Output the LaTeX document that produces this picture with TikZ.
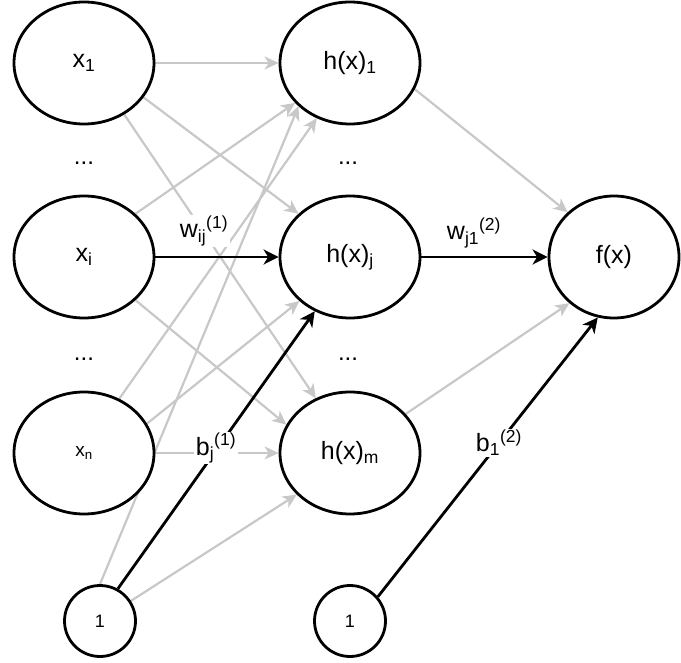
\documentclass[tikz,border=0pt]{standalone}
\usepackage{fontspec}
\setmainfont{Liberation Sans}
\usetikzlibrary{arrows.meta,shapes.geometric}
\definecolor{lgray}{HTML}{C8C8C8}
\pgfdeclarelayer{bg}
\pgfsetlayers{bg,main}
\begin{document}
\begin{tikzpicture}[x=1pt,y=-1pt,
  neuron/.style={ellipse, draw, line width=2.8pt, fill=white, minimum width=140pt, minimum height=122pt, inner sep=0pt, font=\fontsize{25}{30}\selectfont},
  bias/.style={circle, draw, line width=2.8pt, fill=white, minimum size=71pt, inner sep=0pt, font=\fontsize{18}{22}\selectfont},
  dots/.style={anchor=base, inner sep=0pt, font=\fontsize{24}{29}\selectfont},
  lab/.style={anchor=base, fill=white, inner sep=1.5pt, font=\fontsize{25}{30}\selectfont},
  gedge/.style={draw=lgray, line width=2.2pt, -{Stealth[length=14pt,width=13pt,inset=4pt]}},
  bedge/.style={draw=black, line width=2.8pt, -{Stealth[length=15pt,width=15pt,inset=4.5pt]}}]
\useasboundingbox (0,0) rectangle (681,663);

\node[neuron] (x1) at (84,63) {x\textsubscript{1}};
\node[neuron] (xi) at (84,257) {x\textsubscript{i}};
\node[neuron, font=\fontsize{19}{23}\selectfont] (xn) at (84,453) {x\textsubscript{n}};
\node[neuron] (h1) at (350,63) {h(x)\textsubscript{1}};
\node[neuron] (hj) at (350,257) {h(x)\textsubscript{j}};
\node[neuron] (hm) at (350,453) {h(x)\textsubscript{m}};
\node[neuron, minimum width=130pt] (f) at (614,257) {f(x)};
\node[bias] (b1) at (100,621) {1};
\node[bias] (b2) at (350,621) {1};

\node[dots] (d1) at (84,165) {...};
\node[dots] (d2) at (348,165) {...};
\node[dots] (d3) at (84,361) {...};
\node[dots] (d4) at (348,361) {...};

\begin{pgfonlayer}{bg}
% grey connectors, input -> hidden
\draw[gedge] (x1.east) -- (h1.west);
\draw[gedge] (x1.330) -- (hj.140);
\draw[gedge] (x1.308) -- (hm.122);
\draw[gedge] (xi.40) -- (h1.216);
\draw[gedge] (xi.320) -- (hm.156);
\draw[gedge] (xn.57) -- (h1.239);
\draw[gedge] (xn.25) -- (hj.221);
\draw[gedge] (xn.east) -- (hm.west);
\draw[gedge] (b1.90) -- (h1.220);
\draw[gedge] (b1.33) -- (hm.218);
% grey connectors, hidden -> output
\draw[gedge] (h1.338) -- (f.136);
\draw[gedge] (hm.35) -- (f.226);
% black connectors
\draw[bedge] (xi.east) -- (hj.west);
\draw[bedge] (b1.61) -- (hj.237);
\draw[bedge] (hj.east) -- (f.west);
\draw[bedge] (b2.41) -- (f.255);
\end{pgfonlayer}

\node[lab] (lw1) at (204,238) {w\textsubscript{ij}\textsuperscript{(1)}};
\node[lab] (lw2) at (474,240) {w\textsubscript{j1}\textsuperscript{(2)}};
\node[lab] (lb1) at (216,455) {b\textsubscript{j}\textsuperscript{(1)}};
\node[lab] (lb2) at (499,452) {b\textsubscript{1}\textsuperscript{(2)}};
\end{tikzpicture}
\end{document}
